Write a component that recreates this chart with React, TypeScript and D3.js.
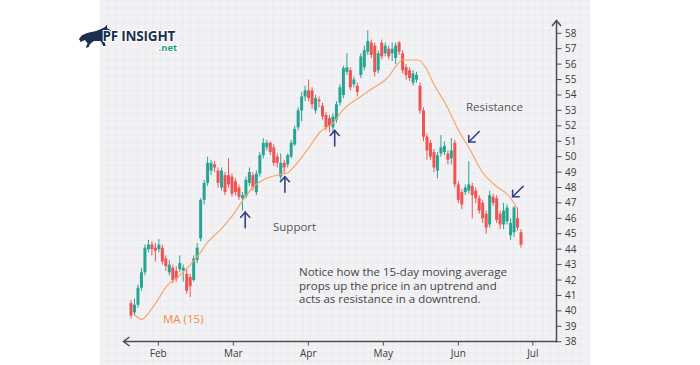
import React from "react";
import * as d3 from "d3";

// ---- data ----
const opens = [40.5,39.9,40.4,41.5,42.5,44.0,44.3,44.1,44.0,44.1,43.4,42.5,42.8,42.6,42.7,42.6,42.4,42.2,42.0,43.3,44.7,47.2,48.3,49.1,49.5,49.1,48.0,48.8,48.8,48.7,48.4,48.0,47.3,47.4,48.3,48.8,47.7,48.9,50.1,50.6,50.9,50.6,50.0,48.7,49.6,49.5,50.0,50.8,51.9,53.0,53.9,54.3,54.3,53.0,53.7,53.3,52.7,52.5,51.9,52.4,53.5,54.0,55.5,55.6,54.7,54.6,55.3,55.8,56.8,57.4,57.2,55.6,57.4,56.7,57.0,56.7,56.4,57.4,56.7,55.8,55.6,54.8,55.0,54.6,53.0,51.3,50.9,50.3,49.1,50.2,50.3,50.2,49.9,50.9,48.2,47.7,47.7,47.8,48.1,47.8,47.3,47.0,46.3,45.6,47.4,47.3,46.3,45.6,45.8,44.9,45.1,46.0,45.1];
const highs = [40.7,40.8,41.7,42.8,44.3,44.6,44.5,44.4,44.65,44.3,43.6,43.3,43.0,42.9,43.6,43.0,42.7,42.4,43.6,44.4,47.3,48.5,50.0,49.8,49.7,49.3,49.3,49.0,49.9,48.9,48.6,48.2,47.7,48.7,49.3,49.0,49.1,50.3,51.2,51.1,51.0,50.8,50.2,50.2,49.8,50.2,51.1,52.0,53.2,54.2,54.6,55.0,54.5,54.0,53.9,53.5,52.9,52.7,52.8,53.6,54.7,55.9,56.7,55.8,55.2,54.8,56.7,57.2,58.2,57.6,57.4,56.9,57.6,57.4,57.2,57.4,57.4,57.5,56.9,56.0,55.8,55.6,55.5,54.8,53.2,51.5,51.1,50.5,50.3,51.4,51.0,50.4,51.2,51.1,48.4,47.9,48.2,49.7,48.3,48.0,47.5,47.2,46.5,47.8,47.6,47.5,46.5,47.0,46.9,46.0,46.8,46.7,45.3];
const lows = [39.5,39.7,40.2,41.3,42.3,43.8,43.6,43.2,43.8,43.0,42.6,42.3,41.8,41.9,42.5,41.9,41.1,40.9,41.9,43.1,44.5,46.9,48.1,48.8,49.0,48.0,47.8,47.5,48.0,47.4,47.5,47.2,46.5,47.3,48.1,47.8,47.5,48.7,49.9,50.4,50.1,49.4,49.3,48.5,48.9,49.3,49.9,50.7,51.7,52.3,53.6,53.6,53.1,52.8,53.2,52.4,51.7,51.6,51.5,52.2,53.3,53.8,55.3,54.3,54.5,53.9,55.1,55.6,56.6,56.4,55.2,55.4,56.3,56.5,56.3,56.2,56.0,56.6,55.4,55.0,54.9,54.6,54.8,52.8,51.0,49.8,49.8,49.0,48.6,50.0,50.1,49.5,49.5,48.0,47.0,46.6,47.5,47.6,46.0,47.0,46.3,45.7,45.0,45.4,46.8,45.7,45.3,45.3,45.6,44.6,44.8,45.2,44.1];
const closes = [39.7,40.4,41.5,42.5,44.1,44.3,44.0,43.9,44.3,43.2,42.9,43.0,42.0,42.1,43.1,42.8,41.3,41.6,43.4,44.1,47.2,48.3,49.6,49.6,49.3,48.3,49.1,47.7,48.2,47.6,47.7,47.4,47.5,48.5,49.0,48.0,48.9,50.1,50.9,50.9,50.3,49.6,49.6,49.6,49.3,50.1,50.9,51.8,53.0,53.9,54.3,53.8,53.4,53.8,53.6,52.6,51.9,52.0,52.6,53.4,54.5,55.75,55.8,54.5,55.0,54.2,56.5,56.9,57.5,56.6,55.5,56.7,56.5,57.2,56.5,57.0,57.2,56.8,55.6,55.3,55.1,55.4,55.3,53.0,51.3,50.4,50.0,49.3,50.1,50.6,50.7,49.8,50.4,48.2,47.2,46.9,48.0,48.2,47.5,47.3,46.5,46.0,45.4,47.5,47.0,45.9,45.6,46.5,46.7,45.7,46.7,45.4,44.3];

// 15-day moving average as traced on the picture (candle index, price)
const maIndex = [1.15,3.07,6.3,10.6,13.5,16.95,19.8,22.1,25.6,29.3,32.2,35.1,37.9,42.2,44.8,47.7,50.6,54.3,58.0,60.9,65.8,69.5,73.6,76.4,77.9,82.5,84.5,86.8,90.8,93.7,97.4,101.1,105.2,108.3,110.9];
const maValue = [39.73,39.45,40.25,41.68,42.2,42.97,43.75,44.47,45.24,46.22,47.19,48.03,48.49,48.81,48.94,49.59,50.43,51.6,52.18,53.03,53.87,54.45,55.1,55.95,56.27,56.27,55.82,54.78,53.22,51.86,50.43,48.94,48.03,47.51,46.67];

const monthLabels = ["Feb","Mar","Apr","May","Jun","Jul"];
const monthTickIndex = [7.84,29.38,50.92,72.46,94.0,115.4];
const priceTicks = d3.range(38, 59, 1);

const noteLines = [
  "Notice how the 15-day moving average",
  "props up the price in an uptrend and",
  "acts as resistance in a downtrend.",
];

// support arrows (candle index, price span) and resistance arrows
const supportArrowIdx = [32.8, 44.2, 58.5];
const supportArrowTop = [46.4, 48.7, 51.7];
const resistArrowIdx = [97.0, 109.6];
const resistArrowPrice = [50.95, 47.4];

const FONT = "'Open Sans', 'Noto Sans', sans-serif";
const TEAL = "#27a592";
const RED = "#ef5452";
const NAVY = "#373d86";

export default function App() {
  const x = d3.scaleLinear().domain([0, 112]).range([131, 521]);
  const y = d3.scaleLinear().domain([38, 58]).range([341.7, 33.3]);
  const axisX = 556.5;
  const axisY = 341.5;

  const maLine = d3
    .line<number>()
    .x((_, i) => x(maIndex[i]))
    .y((d) => y(d))
    .curve(d3.curveMonotoneX);

  const bw = 3;

  return (
    <svg
      width={700}
      height={365}
      style={{ position: "absolute", left: 0, top: 0, display: "block" }}
      fontFamily={FONT}
    >
      <defs>
        <pattern id="grid" width={7.5} height={7.5} patternUnits="userSpaceOnUse" x={100} y={0}>
          <rect width={7.5} height={7.5} fill="#f2f2f5" />
          <path d="M7.5 0 L0 0 0 7.5" fill="none" stroke="#e4e4ea" strokeWidth={0.8} />
        </pattern>
      </defs>
      <rect x={0} y={0} width={700} height={365} fill="#ffffff" />
      <rect x={100} y={0} width={490} height={365} fill="url(#grid)" />

      {/* logo */}
      <g>
        <path
          d="M78.5,39 L81.5,35 L87,32.5 L96,30.5 L101,28.5 L105,26.5 L108,22.5 L107.5,28 L111.5,30 L111,35 L106.5,37 L104.5,41 L106.5,46.5 L103,46.5 L100.5,41.5 L94,41.5 L90.5,44 L88.5,48 L85,48 L87,43.5 L85,40.5 L80.5,42.5 Z"
          fill="#1b2f4e"
          stroke="#ffffff"
          strokeWidth={1}
        />
        <text x={102.5} y={40.5} fontSize={13.5} fontWeight={700} fill="#1b2f4e" stroke="#fff" strokeWidth={2} paintOrder="stroke" letterSpacing={-0.2}>
          PF INSIGHT
        </text>
        <text x={158.5} y={51} fontSize={9.5} fontWeight={700} fill="#1f9c78" stroke="#fff" strokeWidth={2} paintOrder="stroke">
          .net
        </text>
      </g>

      {/* candles */}
      {opens.map((o, i) => {
        const c = closes[i];
        const up = c >= o;
        const col = up ? TEAL : RED;
        const cx = x(i);
        const top = y(Math.max(o, c));
        const bot = y(Math.min(o, c));
        return (
          <g key={i}>
            <line x1={cx} x2={cx} y1={y(highs[i])} y2={y(lows[i])} stroke={col} strokeWidth={1} />
            <rect x={cx - bw / 2} y={top} width={bw} height={Math.max(1, bot - top)} fill={col} />
          </g>
        );
      })}

      {/* moving average */}
      <path d={maLine(maValue) || ""} fill="none" stroke="#f5a766" strokeWidth={1.2} />

      {/* axes */}
      <g stroke="#4d4d4d" strokeWidth={1.5} fill="none">
        <line x1={124} x2={axisX} y1={axisY} y2={axisY} />
        <polyline points={`129.5,337 123.5,${axisY} 129.5,346`} />
        <line x1={axisX} x2={axisX} y1={axisY + 1} y2={21} />
        <polyline points={`${axisX - 4.5},26 ${axisX},20.5 ${axisX + 4.5},26`} />
      </g>
      {priceTicks.map((p) => (
        <g key={p}>
          <line x1={axisX} x2={axisX + 5} y1={y(p)} y2={y(p)} stroke="#4d4d4d" strokeWidth={1} />
          <text x={axisX + 8.5} y={y(p)} dy="0.35em" fontSize={10} fill="#3a3a3a">
            {p}
          </text>
        </g>
      ))}
      {monthLabels.map((m, i) => (
        <g key={m}>
          <line x1={x(monthTickIndex[i])} x2={x(monthTickIndex[i])} y1={axisY} y2={axisY + 4} stroke="#4d4d4d" strokeWidth={1} />
          <text x={x(monthTickIndex[i])} y={357} fontSize={10} fill="#3a3a3a" textAnchor="middle">
            {m}
          </text>
        </g>
      ))}

      {/* annotations */}
      {supportArrowIdx.map((ix, i) => {
        const ax = x(ix);
        const ay = y(supportArrowTop[i]);
        return (
          <g key={"s" + i} stroke={NAVY} strokeWidth={1.6} fill="none" strokeLinecap="round">
            <line x1={ax} x2={ax} y1={ay} y2={ay + 15.5} />
            <polyline points={`${ax - 4.5},${ay + 5} ${ax},${ay} ${ax + 4.5},${ay + 5}`} />
          </g>
        );
      })}
      {resistArrowIdx.map((ix, i) => {
        const tx = x(ix);
        const ty = y(resistArrowPrice[i]);
        return (
          <g key={"r" + i} stroke={NAVY} strokeWidth={1.6} fill="none" strokeLinecap="round">
            <line x1={tx} x2={tx + 10.5} y1={ty} y2={ty - 10.5} />
            <polyline points={`${tx},${ty - 6.5} ${tx},${ty} ${tx + 6.5},${ty}`} />
          </g>
        );
      })}

      <text x={273} y={231} fontSize={11.5} fill="#555">Support</text>
      <text x={466} y={110.5} fontSize={11.5} fill="#555">Resistance</text>
      <text x={163} y={323} fontSize={11.5} fill="#f08c45">MA (15)</text>
      {noteLines.map((t, i) => (
        <text key={i} x={299} y={276 + i * 13.5} fontSize={11.5} fill="#444">
          {t}
        </text>
      ))}
    </svg>
  );
}
